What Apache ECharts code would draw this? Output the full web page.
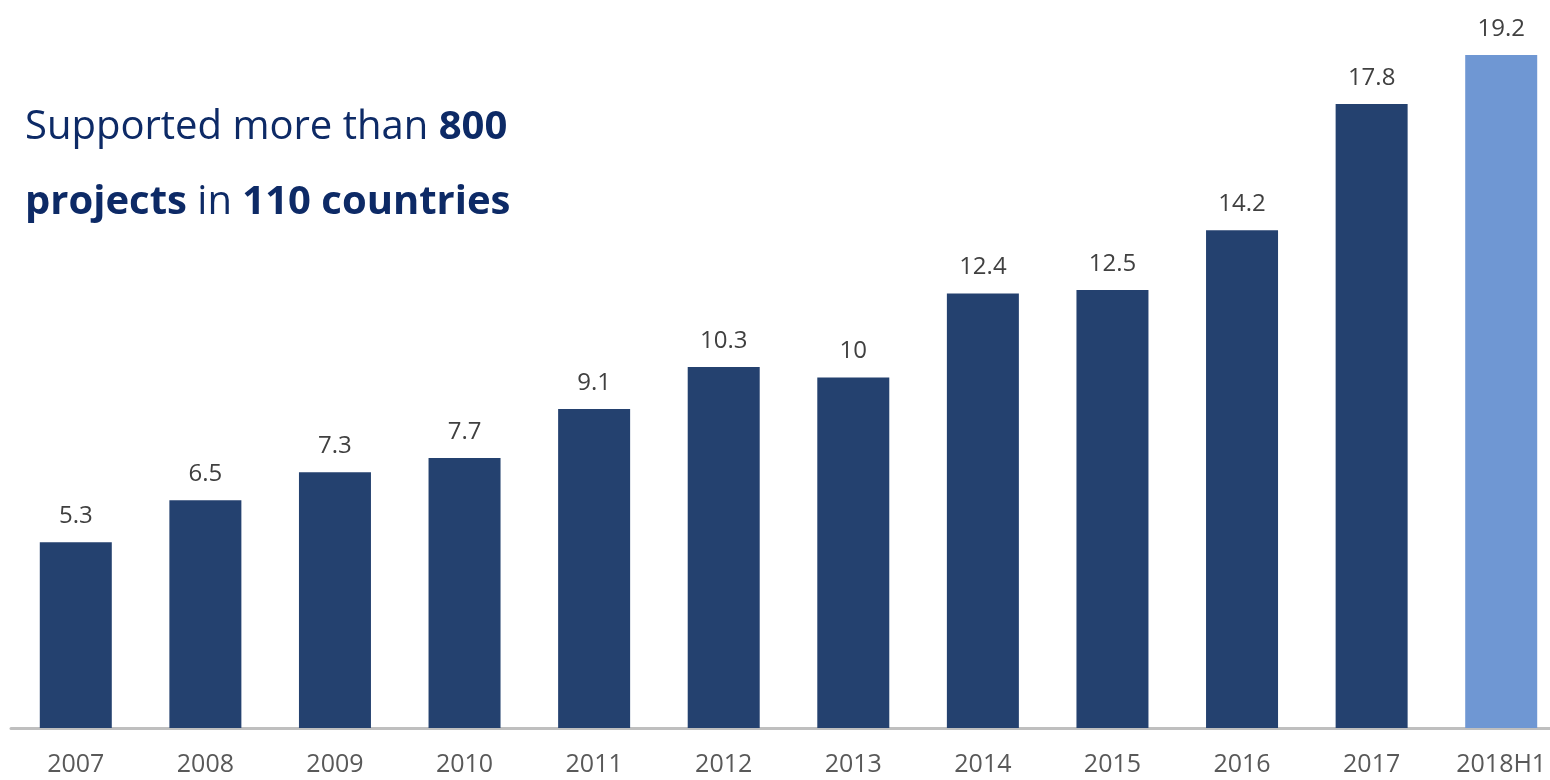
<!DOCTYPE html>
<html>
<head>
<meta charset="utf-8">
<title>Projects chart</title>
<script src="https://cdn.jsdelivr.net/npm/echarts@6/dist/echarts.min.js"></script>
<style>
  html, body { margin: 0; padding: 0; background: #fff; }
  #chartmain { width: 1550px; height: 780px; }
</style>
</head>
<body>
<div id="chartmain"></div>
<script>
var years = ['2007', '2008', '2009', '2010', '2011', '2012', '2013', '2014', '2015', '2016', '2017', '2018H1']
var values = [5.3, 6.5, 7.3, 7.7, 9.1, 10.3, 10, 12.4, 12.5, 14.2, 17.8, 19.2]

var darkBlue = '#24416f'
var lightBlue = '#6f97d3'
var fontName = '"Open Sans", sans-serif'

var barData = values.map(function (v, i) {
  return {
    value: v,
    itemStyle: { color: i === values.length - 1 ? lightBlue : darkBlue },
  }
})

var option = {
  backgroundColor: '#ffffff',
  animation: false,
  title: {
    left: 20,
    top: 85,
    text: '{n|Supported more than }{b|800}\n{b|projects}{n| in }{b|110 countries}',
    textStyle: {
      fontWeight: 'normal',
      rich: {
        n: { fontFamily: fontName, fontSize: 40, fontWeight: 'normal', color: '#0d2a66', lineHeight: 75 },
        b: { fontFamily: fontName, fontSize: 40, fontWeight: 'bold', color: '#0d2a66', lineHeight: 75 },
      },
    },
  },
  grid: {
    left: 11,
    width: 1555,
    top: 27,
    bottom: 52,
    outerBoundsMode: 'none',
    containLabel: false,
  },
  xAxis: {
    type: 'category',
    data: years,
    axisLine: { show: true, lineStyle: { color: '#bfbfbf', width: 3 } },
    axisTick: { show: false },
    axisLabel: {
      color: '#595959',
      fontFamily: fontName,
      fontSize: 25,
      margin: 24,
    },
  },
  yAxis: {
    type: 'value',
    min: 0,
    max: 20,
    show: false,
    splitLine: { show: false },
  },
  series: [
    {
      type: 'bar',
      data: barData,
      barWidth: 72,
      label: {
        show: true,
        position: 'top',
        distance: 14,
        color: '#404040',
        fontFamily: fontName,
        fontSize: 24,
      },
    },
  ],
}

var myChart = echarts.init(document.getElementById('chartmain'))
myChart.setOption(option)
</script>
</body>
</html>
